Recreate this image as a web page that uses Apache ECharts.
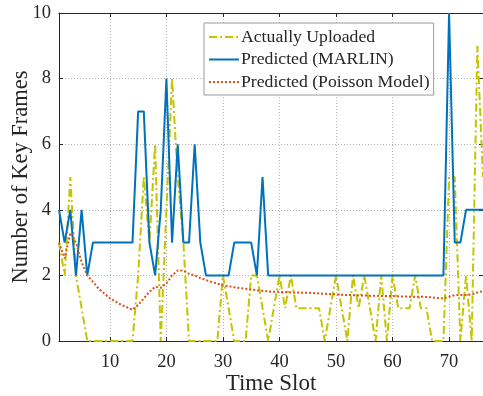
<!DOCTYPE html>
<html>
<head>
<meta charset="utf-8">
<script src="https://cdn.jsdelivr.net/npm/echarts@6/dist/echarts.min.js"></script>
<style>
html,body{margin:0;padding:0;background:#fff;}
#chart{width:483px;height:396px;}
</style>
</head>
<body>
<div id="chart"></div>
<script>
const slots = Array.from({length: 76}, (_, i) => i + 1);
const xTicks = [10, 20, 30, 40, 50, 60, 70];
const seriesNames = ['Actually Uploaded', 'Predicted (MARLIN)', 'Predicted (Poisson Model)'];
const uploaded = [3,2,5,2,1,0,0,0,0,0,0,0,0,0,2,5,3,6,0,4,8,5,3,0,0,0,0,0,0,2,
  1,0,0,0,2,2,1,0,1,2,1,2,1,1,1,1,1,0,1,2,1,0,2,1,2,1,0,2,0,2,
  1,1,1,2,1,1,0,0,0,5,5,0,2,0,9,5];
const marlin = [4,3,4,2,4,2,3,3,3,3,3,3,3,3,7,7,3,2,4,8,3,6,3,3,6,3,2,2,2,2,
  2,3,3,3,3,2,5,2,2,2,2,2,2,2,2,2,2,2,2,2,2,2,2,2,2,2,2,2,2,2,
  2,2,2,2,2,2,2,2,2,10,3,3,4,4,4,4];
const poisson = [3.0,2.52,3.3,3.0,2.4,2.0,1.8,1.6,1.45,1.3,1.2,1.1,1.03,0.95,1.1,1.3,1.5,1.65,1.62,1.75,
  2.0,2.15,2.15,2.05,2.0,1.92,1.86,1.8,1.75,1.7,1.67,1.64,1.61,1.59,1.57,1.55,1.53,1.51,1.5,1.5,
  1.49,1.48,1.48,1.47,1.47,1.46,1.45,1.44,1.43,1.42,1.41,1.4,1.4,1.39,1.39,1.38,1.38,1.37,1.37,1.37,
  1.36,1.36,1.35,1.35,1.35,1.34,1.33,1.31,1.3,1.35,1.4,1.4,1.4,1.42,1.48,1.52];

const pairs = arr => slots.map((s, i) => [s, arr[i]]);
const FONT = 'Liberation Serif';
const TXT = '#262626';

const chart = echarts.init(document.getElementById('chart'), null, {renderer: 'canvas'});
const gridLine = {show: true, lineStyle: {color: '#b4b4b4', type: [1, 2], width: 1}};
const axisLine = {show: true, onZero: false, lineStyle: {color: '#262626', width: 1}};
chart.setOption({
  animation: false,
  backgroundColor: '#fff',
  textStyle: {fontFamily: FONT},
  grid: {left: 59, top: 13, right: 0, bottom: 55, containLabel: false, outerBoundsMode: 'none'},
  legend: {
    left: 204, top: 23, orient: 'vertical',
    data: seriesNames,
    backgroundColor: '#fff', borderColor: '#9a9a9a', borderWidth: 1, borderRadius: 0,
    padding: [5, 4, 4, 4], itemGap: 4.5, itemWidth: 30, itemHeight: 18,
    itemStyle: {opacity: 0},
    lineStyle: {width: 2},
    textStyle: {fontFamily: FONT, fontSize: 17.7, lineHeight: 18, color: TXT, padding: [0, 0, 0, -3]}
  },
  xAxis: [{
    type: 'value', min: 1, max: 76, position: 'bottom',
    name: 'Time Slot', nameLocation: 'middle', nameGap: 31, nameMoveOverlap: false,
    nameTextStyle: {fontFamily: FONT, fontSize: 23, color: TXT},
    axisLine: axisLine,
    axisTick: {show: true, inside: true, length: 4, customValues: xTicks, lineStyle: {color: '#262626'}},
    axisLabel: {customValues: xTicks, fontFamily: FONT, fontSize: 18.5, color: TXT, margin: 12},
    splitLine: gridLine
  }, {
    type: 'value', min: 1, max: 76, position: 'top',
    axisLine: axisLine,
    axisTick: {show: true, inside: true, length: 4, customValues: xTicks, lineStyle: {color: '#262626'}},
    axisLabel: {show: false, customValues: xTicks},
    splitLine: {show: false}
  }],
  yAxis: [{
    type: 'value', min: 0, max: 10, interval: 2, position: 'left',
    name: 'Number of Key Frames', nameLocation: 'middle', nameGap: 26, nameMoveOverlap: false,
    nameTextStyle: {fontFamily: FONT, fontSize: 22.5, color: TXT},
    axisLine: axisLine,
    axisTick: {show: true, inside: true, length: 4, lineStyle: {color: '#262626'}},
    axisLabel: {fontFamily: FONT, fontSize: 18.5, color: TXT, margin: 8},
    splitLine: gridLine
  }, {
    type: 'value', min: 0, max: 10, interval: 2, position: 'right',
    axisLine: axisLine,
    axisTick: {show: true, inside: true, length: 4, lineStyle: {color: '#262626'}},
    axisLabel: {show: false},
    splitLine: {show: false}
  }],
  series: [{
    name: seriesNames[0], type: 'line', data: pairs(uploaded),
    symbol: 'none', z: 3,
    itemStyle: {color: '#c4c400'},
    lineStyle: {color: '#c4c400', width: 2, type: [8, 3, 2, 3]}
  }, {
    name: seriesNames[1], type: 'line', data: pairs(marlin),
    symbol: 'none', z: 4,
    itemStyle: {color: '#0072BD'},
    lineStyle: {color: '#0072BD', width: 2}
  }, {
    name: seriesNames[2], type: 'line', data: pairs(poisson),
    symbol: 'none', z: 5,
    itemStyle: {color: '#D95319'},
    lineStyle: {color: '#D95319', width: 2, type: [2, 2]}
  }]
});
</script>
</body>
</html>
